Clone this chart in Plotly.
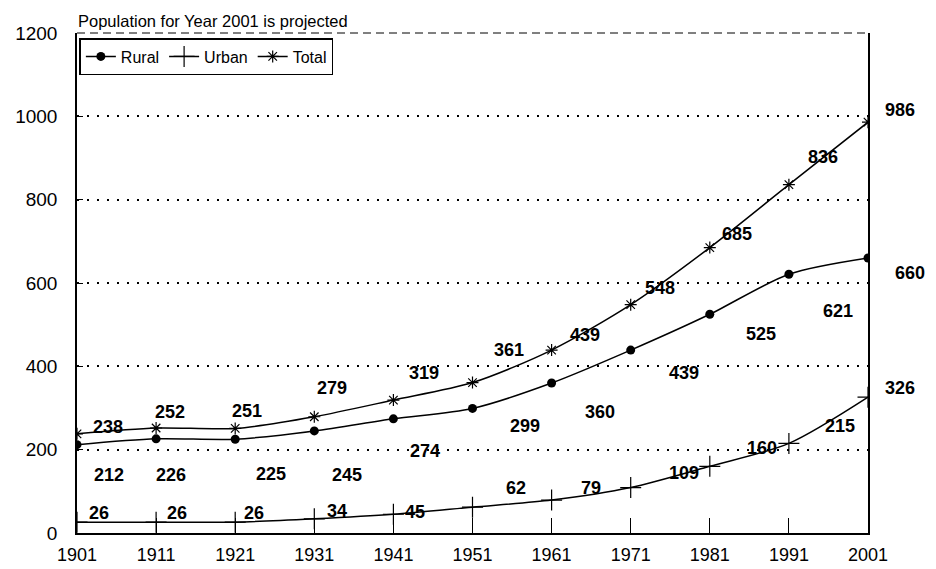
import plotly.graph_objects as go

years = [1901, 1911, 1921, 1931, 1941, 1951, 1961, 1971, 1981, 1991, 2001]
rural = [212, 226, 225, 245, 274, 299, 360, 439, 525, 621, 660]
urban = [26, 26, 26, 34, 45, 62, 79, 109, 160, 215, 326]
total = [238, 252, 251, 279, 319, 361, 439, 548, 685, 836, 986]
y_ticks = [0, 200, 400, 600, 800, 1000, 1200]
note = "Population for Year 2001 is projected"

# label offsets in pixels (style only)
total_off = [(31, 7), (14, 16), (12, 17), (18, 29), (31, 27), (36, 33), (33, 15), (29, 17), (27, 14), (34, 28), (32, 12)]
rural_off = [(32, -30), (15, -36), (36, -35), (33, -44), (32, -32), (52, -18), (48, -29), (53, -23), (51, -20), (49, -37), (42, -15)]
urban_off = [(22, 9), (21, 9), (19, 9), (23, 8), (22, 2), (43, 19), (39, 12), (53, 15), (52, 18), (51, 17), (32, 9)]

FONT = "Arial, Liberation Sans, sans-serif"
fig = go.Figure()
fig.add_trace(go.Scatter(x=years, y=rural, name="Rural", mode="lines+markers",
                         line=dict(color="black", width=1.5, shape="spline", smoothing=0.8),
                         marker=dict(symbol="circle", size=9, color="black")))
fig.add_trace(go.Scatter(x=years, y=urban, name="Urban", mode="lines+markers",
                         line=dict(color="black", width=1.5, shape="spline", smoothing=0.8),
                         marker=dict(symbol="cross-thin-open", size=15, color="black",
                                     line=dict(color="black", width=1.2))))
fig.add_trace(go.Scatter(x=years, y=total, name="Total", mode="lines+markers",
                         line=dict(color="black", width=1.5, shape="spline", smoothing=0.8),
                         marker=dict(symbol="asterisk-open", size=10, color="black",
                                     line=dict(color="black", width=1.2))))

annotations = []
for series, offs in ((total, total_off), (rural, rural_off), (urban, urban_off)):
    for xv, yv, (dx, dy) in zip(years, series, offs):
        annotations.append(dict(x=xv, y=yv, xref="x", yref="y", text=str(yv), showarrow=False,
                                xshift=dx, yshift=dy,
                                font=dict(family=FONT, size=18, color="black", weight="bold")))
annotations.append(dict(x=0, y=1, xref="paper", yref="paper", text=note, showarrow=False,
                        xanchor="left", yanchor="bottom", yshift=2, borderpad=0,
                        font=dict(family=FONT, size=16.5, color="black")))
fig.update_layout(annotations=annotations)

fig.add_shape(type="line", xref="paper", yref="paper", x0=0, x1=1, y0=1, y1=1,
              line=dict(color="black", width=1, dash="8px,5px"))

# page body adds an 8px offset; the figure is sized to fit the window
fig.update_layout(
    width=928, height=561,
    margin=dict(l=69, r=68, t=25, b=36),
    paper_bgcolor="white", plot_bgcolor="white",
    font=dict(family=FONT, color="black"),
    showlegend=True,
    legend=dict(orientation="h", x=0.003, y=0.99, xanchor="left", yanchor="top",
                bgcolor="white", bordercolor="black", borderwidth=1.5,
                font=dict(family=FONT, size=16, color="black"),
                itemwidth=30, tracegroupgap=0),
    xaxis=dict(range=[1901, 2001], tickvals=years, ticktext=[str(y) for y in years],
               showgrid=False, zeroline=False, showline=True, linecolor="black", linewidth=1.5,
               ticks="inside", ticklen=15, tickwidth=1.2, tickcolor="black", automargin=False,
               tickfont=dict(family=FONT, size=18, color="black"), ticklabelstandoff=5),
    yaxis=dict(range=[0, 1200], tickvals=y_ticks, showgrid=True, gridcolor="black", gridwidth=1.5,
               griddash="2px,8px", zeroline=False, showline=True, mirror=True,
               linecolor="black", linewidth=1.5, automargin=False,
               ticks="inside", ticklen=6, tickwidth=1.2, tickcolor="black",
               tickfont=dict(family=FONT, size=19, color="black"), ticklabelstandoff=14),
)

fig.write_html("out.html")
